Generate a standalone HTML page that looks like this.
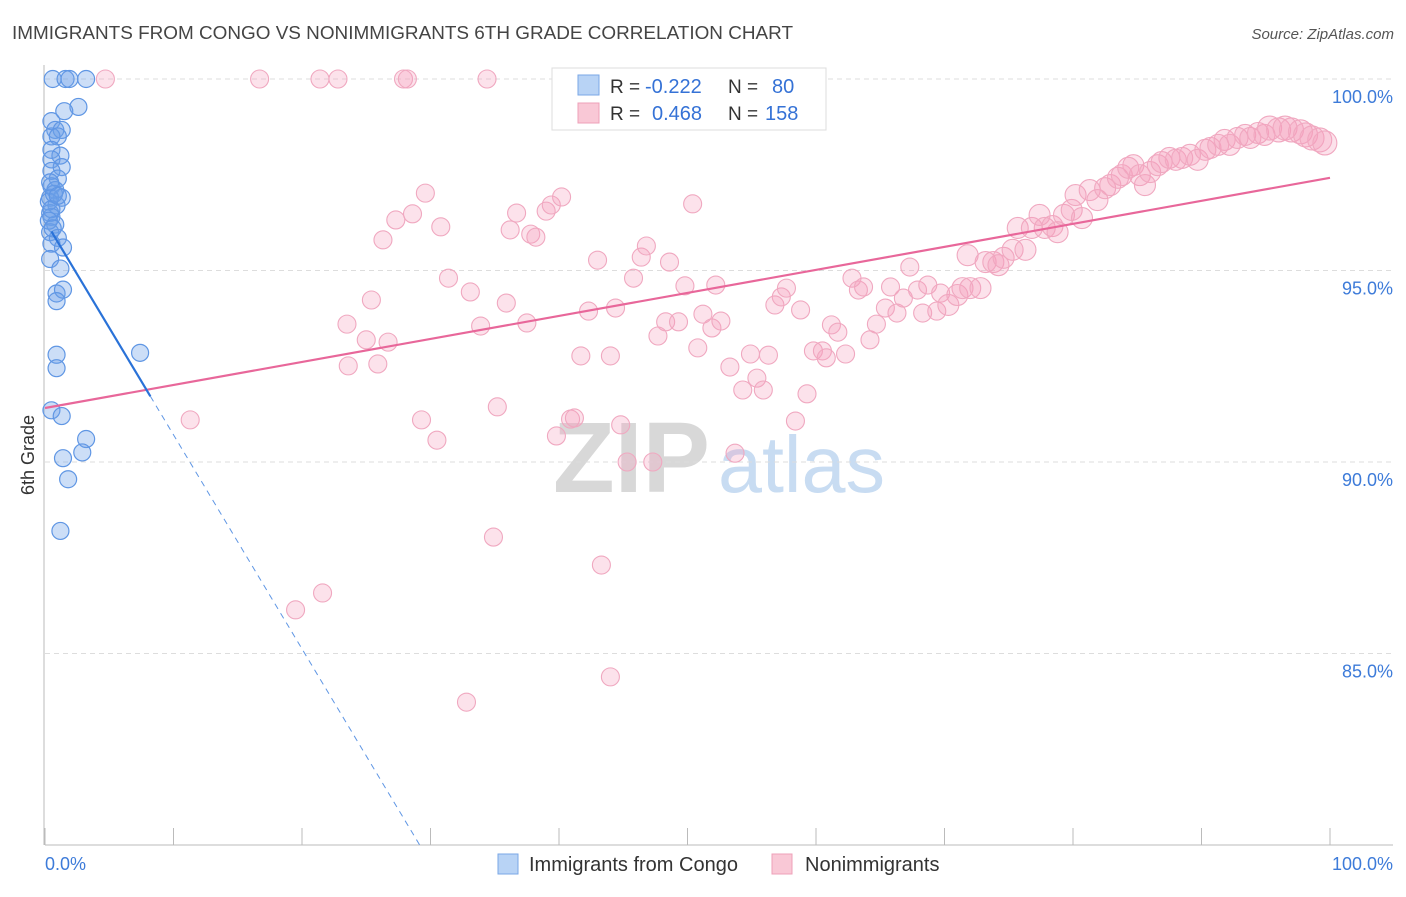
<!DOCTYPE html>
<html><head><meta charset="utf-8">
<style>
body{margin:0;background:#fff;font-family:"Liberation Sans",sans-serif;}
svg text{font-family:"Liberation Sans",sans-serif;}
</style></head>
<body>
<svg id="chart" width="1406" height="892" xmlns="http://www.w3.org/2000/svg">
<text x="12" y="39" font-size="18" fill="#444" textLength="781" lengthAdjust="spacingAndGlyphs">IMMIGRANTS FROM CONGO VS NONIMMIGRANTS 6TH GRADE CORRELATION CHART</text>
<text x="1394" y="39" font-size="15" fill="#555" text-anchor="end" font-style="italic">Source: ZipAtlas.com</text>
<g>
<text x="553" y="492" font-size="100" fill="#d8d8d8" font-family="Liberation Serif" font-weight="bold" textLength="157" lengthAdjust="spacingAndGlyphs">ZIP</text>
<text x="718" y="492" font-size="80" fill="#c8dcf2" textLength="167" lengthAdjust="spacingAndGlyphs">atlas</text>
</g>
<g id="grid"></g>
<g id="axes"></g>
<g id="pink"></g>
<g id="blue"></g>
<g id="lines"></g>
<text transform="translate(34,455) rotate(-90)" font-size="18" fill="#333" text-anchor="middle">6th Grade</text>
<g>
<rect x="552" y="68" width="274" height="62" fill="#fff" stroke="#ddd"/>
<rect x="578" y="75" width="21" height="20" fill="#b8d3f5" stroke="#7aa7e6"/>
<rect x="578" y="103" width="21" height="20" fill="#f9c8d6" stroke="#eea0b8"/>
<text x="610" y="93" font-size="19" fill="#333">R =</text><text x="645" y="93" font-size="20" fill="#3572d6">-0.222</text>
<text x="728" y="93" font-size="19" fill="#333">N =</text><text x="772" y="93" font-size="20" fill="#3572d6">80</text>
<text x="610" y="120" font-size="19" fill="#333">R =</text><text x="652" y="120" font-size="20" fill="#3572d6">0.468</text>
<text x="728" y="120" font-size="19" fill="#333">N =</text><text x="765" y="120" font-size="20" fill="#3572d6">158</text>
</g>
<g>
<rect x="498" y="854" width="20" height="20" fill="#b8d3f5" stroke="#7aa7e6"/>
<text x="529" y="871" font-size="20" fill="#333">Immigrants from Congo</text>
<rect x="772" y="854" width="20" height="20" fill="#f9c8d6" stroke="#eea0b8"/>
<text x="805" y="871" font-size="20" fill="#333">Nonimmigrants</text>
</g>
</svg>
<script>
const yTicks=[100,95,90,85];
const yTickLabels=["100.0%","95.0%","90.0%","85.0%"];
const xTickLabels=["0.0%","100.0%"];
const blueX=[0.6,1.6,1.9,3.2,2.6,1.5,0.5,0.8,1.3,0.5,1,0.5,1.2,0.5,1.3,0.5,1,0.5,0.8,1.3,0.4,0.9,0.4,0.5,0.8,0.4,1,0.5,1.4,0.4,1.2,0.9,1.4,0.9,7.4,0.9,0.9,0.5,1.3,3.2,2.9,1.4,1.8,1.2,0.3,0.7,0.5,0.3,0.6,0.4,1.0];
const blueY=[100,100,100,100,99.27,99.16,98.9,98.67,98.67,98.5,98.5,98.15,98.0,97.9,97.7,97.6,97.4,97.2,97.1,96.9,96.9,96.7,96.5,96.4,96.2,96.0,95.85,95.7,95.6,95.3,95.05,94.4,94.5,94.2,92.85,92.8,92.45,91.35,91.2,90.6,90.25,90.1,89.55,88.2,96.8,97.0,96.6,96.3,96.1,97.3,96.95];
const pinkX=[4.7,16.7,21.4,22.8,27.9,28.2,34.4,11.3,19.5,21.6,23.5,25.4,25.0,23.6,25.9,26.3,26.7,27.3,28.6,29.6,29.3,30.5,30.8,31.4,33.1,33.9,34.9,35.2,35.9,36.2,36.7,37.5,37.8,38.2,39.0,39.4,39.8,40.2,40.9,41.2,32.8,43.3,44.0,41.7,42.3,43.0,44.0,44.4,44.8,45.3,45.8,46.4,46.8,47.3,47.7,48.3,48.6,49.3,49.8,50.4,50.8,51.2,51.9,52.2,52.6,53.3,53.7,54.3,54.9,55.4,55.9,56.3,56.8,57.3,57.7,58.8,59.3,58.4,59.8,60.5,60.8,61.2,61.7,62.3,62.8,63.3,63.7,64.2,64.7,65.4,65.8,66.3,66.8,67.3,67.9,68.3,68.7,69.4,69.7,70.3,71.0,71.4,72.0,72.8,71.8,73.2,73.8,74.2,74.6,75.3,75.7,76.3,76.8,77.4,77.8,78.4,78.8,79.3,79.9,80.2,80.7,81.3,81.9,82.5,82.9,83.5,83.8,84.3,84.7,85.2,85.6,86.0,86.6,86.9,87.5,88.0,88.5,89.1,89.7,90.3,90.7,91.3,91.8,92.2,92.8,93.4,93.8,94.4,94.9,95.3,96.0,96.5,97.0,97.7,98.1,98.6,99.2,99.6];
const pinkY=[100,100,100,100,100,100,100,91.1,86.14,86.58,93.6,94.23,93.19,92.51,92.56,95.8,93.13,96.32,96.48,97.02,91.1,90.57,96.14,94.8,94.44,93.55,88.04,91.44,94.15,96.06,96.5,93.63,95.95,95.87,96.55,96.71,90.68,96.92,91.12,91.15,83.73,87.31,84.39,92.77,93.94,95.27,92.77,94.02,90.97,90.0,94.8,95.35,95.64,90.0,93.29,93.66,95.22,93.66,94.6,96.74,92.98,93.86,93.5,94.62,93.68,92.48,90.23,91.88,92.82,92.19,91.88,92.79,94.1,94.31,94.54,93.97,91.78,91.07,92.9,92.9,92.72,93.58,93.39,92.82,94.8,94.49,94.57,93.19,93.6,94.02,94.57,93.89,94.28,95.09,94.49,93.89,94.62,93.94,94.41,94.1,94.36,94.54,94.54,94.54,95.4,95.22,95.22,95.14,95.33,95.54,96.11,95.54,96.11,96.45,96.11,96.16,96.0,96.45,96.58,96.97,96.37,97.1,96.84,97.15,97.23,97.42,97.49,97.68,97.75,97.49,97.23,97.57,97.75,97.83,97.94,97.89,97.94,98.02,97.89,98.15,98.2,98.28,98.41,98.28,98.46,98.54,98.46,98.59,98.54,98.72,98.67,98.72,98.67,98.62,98.54,98.46,98.41,98.33];
const blueTrend=[96.3,-0.559];
const pinkTrend=[91.41,97.42];
const NS='http://www.w3.org/2000/svg';
const X0=45,X1=1330,Y100=79,PXPER=38.3,YBOT=845;
const sx=v=>X0+v*(X1-X0)/100;
const sy=v=>Y100+(100-v)*PXPER;
function mk(tag,attrs,parent){const e=document.createElementNS(NS,tag);for(const k in attrs)e.setAttribute(k,attrs[k]);parent.appendChild(e);return e;}
const grid=document.getElementById('grid'),axes=document.getElementById('axes');
yTicks.forEach((t,i)=>{
  const l=mk('line',{x1:X0,x2:1393,y1:sy(t),y2:sy(t),stroke:'#ddd','stroke-dasharray':'5,4'},grid);
  
  
  const tx=mk('text',{x:1393,y:sy(t)+24,'font-size':18,fill:'#3d7bd9','text-anchor':'end'},axes);
  tx.textContent=yTickLabels[i];
  
  
});
const la=mk('line',{x1:44,x2:44,y1:65,y2:YBOT,stroke:'#bbb'},axes);


const ba=mk('line',{x1:X0,x2:1393,y1:YBOT,y2:YBOT,stroke:'#bbb'},axes);


for(let i=0;i<=10;i++){
  const tk=mk('line',{x1:sx(i*10),x2:sx(i*10),y1:828,y2:YBOT,stroke:'#bbb'},axes);
  
  
}
const xl0=mk('text',{x:45,y:870,'font-size':18,fill:'#3d7bd9'},axes);xl0.textContent=xTickLabels[0];


const xl1=mk('text',{x:1393,y:870,'font-size':18,fill:'#3d7bd9','text-anchor':'end'},axes);xl1.textContent=xTickLabels[1];


const pg=document.getElementById('pink');
pinkX.forEach((x,i)=>{
  const r=x>95?12:(x>70?10.5:9);
  const c=mk('circle',{cx:sx(x),cy:sy(pinkY[i]),r:r,fill:'rgba(244,160,188,0.3)',stroke:'#f0a8c0','stroke-width':1.1},pg);
  
  
});
const bg=document.getElementById('blue');
blueX.forEach((x,i)=>{
  const c=mk('circle',{cx:sx(x),cy:sy(blueY[i]),r:8.5,fill:'rgba(110,160,232,0.35)',stroke:'#5f96e4','stroke-width':1.2},bg);
  
  
});
const lg=document.getElementById('lines');
const pl=mk('line',{x1:sx(0),y1:sy(pinkTrend[0]),x2:sx(100),y2:sy(pinkTrend[1]),stroke:'#e8679a','stroke-width':2.2},lg);


const bEnd=8.2;
const bl=mk('line',{x1:sx(0.5),y1:sy(blueTrend[0]+blueTrend[1]*0.5),x2:sx(bEnd),y2:sy(blueTrend[0]+blueTrend[1]*bEnd),stroke:'#2a72d8','stroke-width':2.2},lg);


const yMin=100-(YBOT-Y100)/PXPER;
const xBot=(yMin-blueTrend[0])/blueTrend[1];
const bd=mk('line',{x1:sx(bEnd),y1:sy(blueTrend[0]+blueTrend[1]*bEnd),x2:sx(xBot),y2:YBOT,stroke:'#5f96e4','stroke-width':1,'stroke-dasharray':'6,5'},lg);


</script>
</body></html>
